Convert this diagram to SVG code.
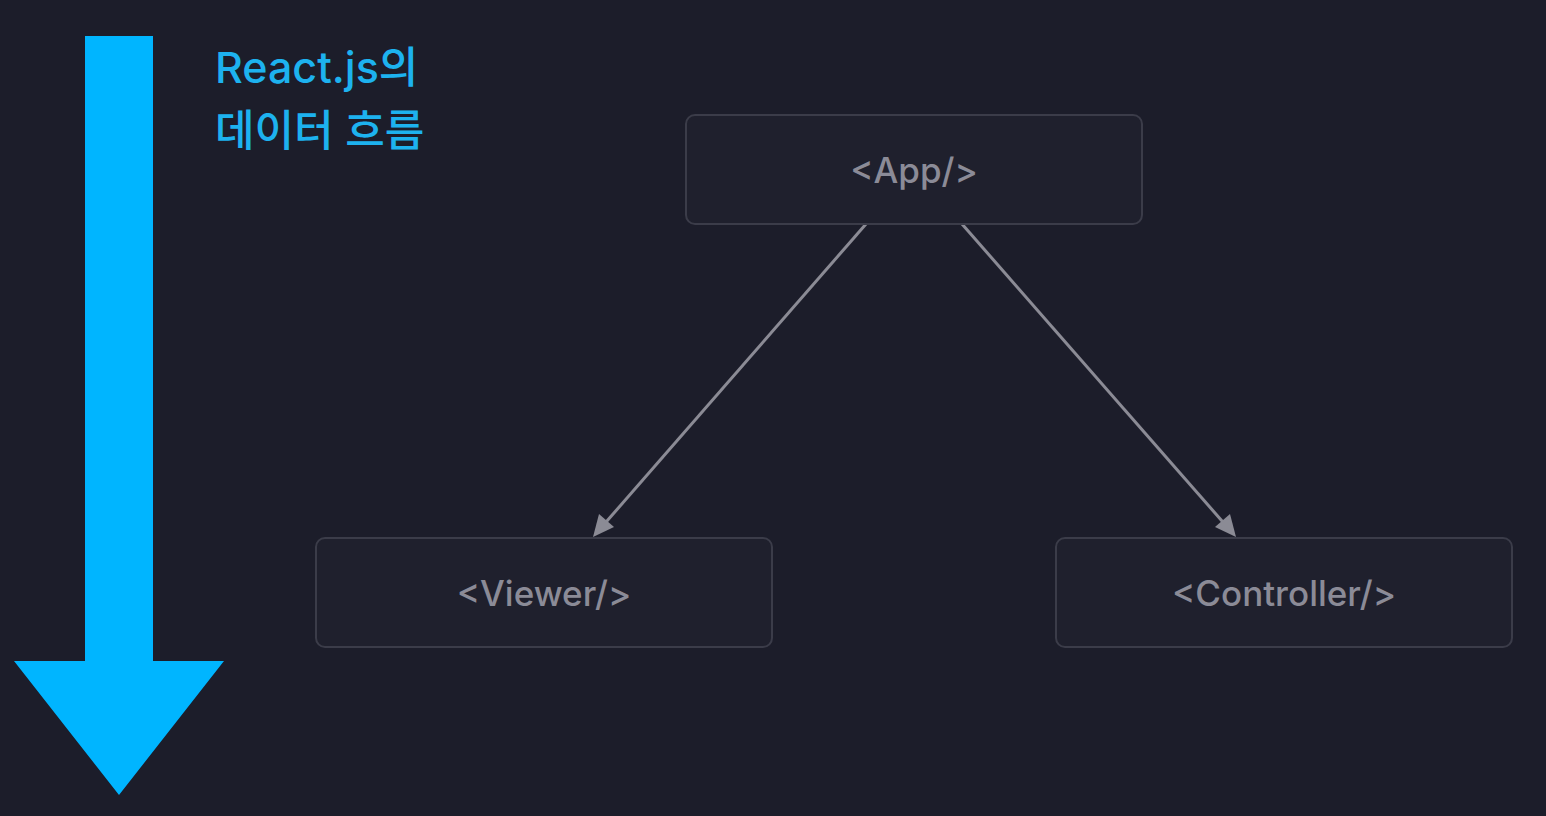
<svg xmlns="http://www.w3.org/2000/svg" width="1546" height="816" viewBox="0 0 1546 816">
<style>
.box{fill:#1f202d;stroke:#3b3c49;stroke-width:2}
.lbl{font-family:Inter,"Noto Sans",sans-serif;font-size:35px;font-weight:500;fill:#8b8b97;text-anchor:middle;dominant-baseline:central}
.title{font-family:Inter,"Noto Sans CJK KR",sans-serif;font-size:43px;fill:#1db2ef;font-weight:500}
.edge{stroke:#8b8b95;stroke-width:3;fill:none}
.head{fill:#8b8b95}
</style>
<rect width="1546" height="816" fill="#1c1d2a"/>
<g id="flow-arrow">
<polygon points="85,36 153,36 153,661 224,661 119,795 14,661 85,661" fill="#00b5ff"/>
</g>
<g id="title">
<text class="title" x="215" y="83">React.js의</text>
<text class="title" x="215" y="146">데이터 흐름</text>
</g>
<g id="connectors">
<path class="edge" d="M866,224 L600,529"/>
<polygon class="head" points="593,537 599,514 614,527"/>
<path class="edge" d="M962,224 L1229,529"/>
<polygon class="head" points="1236,537 1215,527 1230,514"/>
</g>
<g id="node-app">
<rect class="box" x="686" y="115" width="456" height="109" rx="9"/>
<text class="lbl" x="914" y="170">&lt;App/&gt;</text>
</g>
<g id="node-viewer">
<rect class="box" x="316" y="538" width="456" height="109" rx="9"/>
<text class="lbl" x="544" y="593">&lt;Viewer/&gt;</text>
</g>
<g id="node-controller">
<rect class="box" x="1056" y="538" width="456" height="109" rx="9"/>
<text class="lbl" x="1284" y="593">&lt;Controller/&gt;</text>
</g>
</svg>
